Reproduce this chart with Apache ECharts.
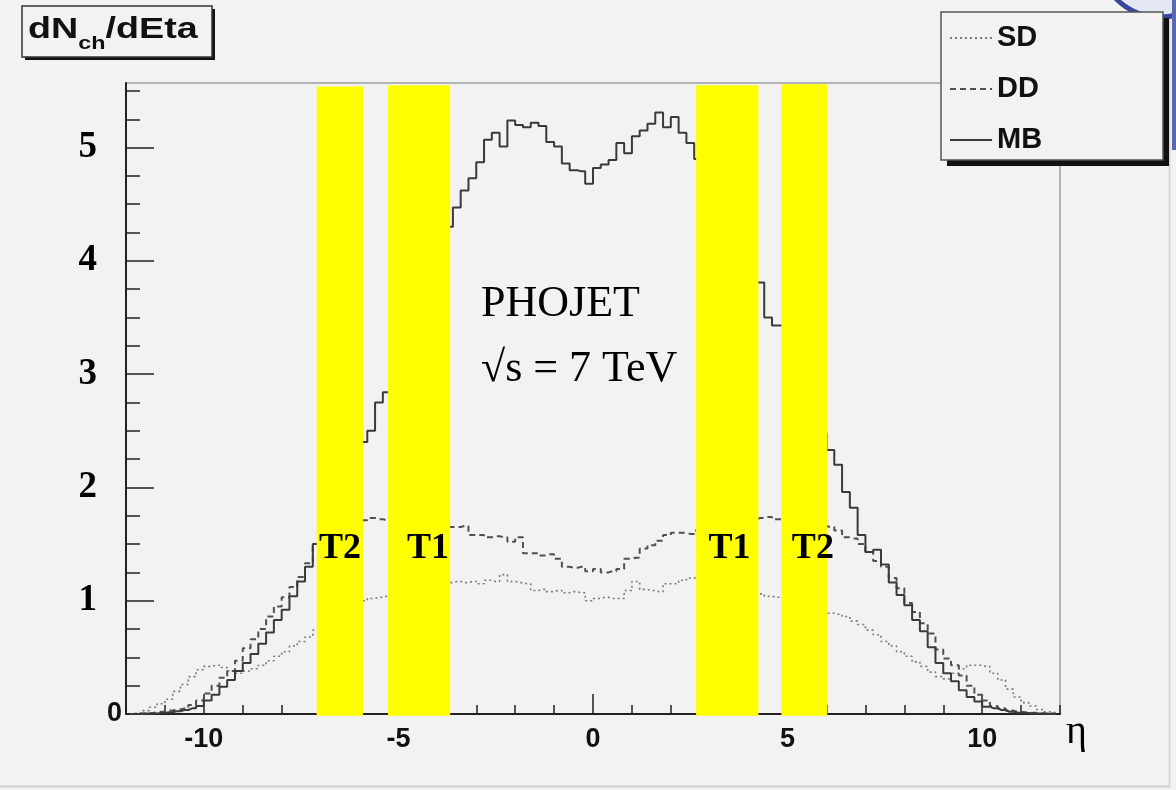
<!DOCTYPE html>
<html><head><meta charset="utf-8">
<script src="https://cdn.jsdelivr.net/npm/echarts@6/dist/echarts.min.js"></script>
<style>html,body{margin:0;padding:0;background:#f2f2f2;}#c{width:1176px;height:790px;}</style>
</head><body><div id="c"></div>
<script>
// bin centres (eta), 120 bins of width 0.2 between -12 and 12
const etaCenters = [
-11.9,-11.7,-11.5,-11.3,-11.1,-10.9,-10.7,-10.5,-10.3,-10.1,
-9.9,-9.7,-9.5,-9.3,-9.1,-8.9,-8.7,-8.5,-8.3,-8.1,
-7.9,-7.7,-7.5,-7.3,-7.1,-6.9,-6.7,-6.5,-6.3,-6.1,
-5.9,-5.7,-5.5,-5.3,-5.1,-4.9,-4.7,-4.5,-4.3,-4.1,
-3.9,-3.7,-3.5,-3.3,-3.1,-2.9,-2.7,-2.5,-2.3,-2.1,
-1.9,-1.7,-1.5,-1.3,-1.1,-0.9,-0.7,-0.5,-0.3,-0.1,
0.1,0.3,0.5,0.7,0.9,1.1,1.3,1.5,1.7,1.9,
2.1,2.3,2.5,2.7,2.9,3.1,3.3,3.5,3.7,3.9,
4.1,4.3,4.5,4.7,4.9,5.1,5.3,5.5,5.7,5.9,
6.1,6.3,6.5,6.7,6.9,7.1,7.3,7.5,7.7,7.9,
8.1,8.3,8.5,8.7,8.9,9.1,9.3,9.5,9.7,9.9,
10.1,10.3,10.5,10.7,10.9,11.1,11.3,11.5,11.7,11.9];

const mbValues = [
0,0,0.005,0.005,0.01,0.015,0.025,0.035,0.05,0.07,
0.12,0.17,0.24,0.30,0.38,0.45,0.53,0.62,0.72,0.83,
0.92,1.04,1.17,1.30,1.50,1.65,1.78,1.92,2.08,2.25,
2.40,2.50,2.75,2.84,3.00,3.20,3.40,3.60,3.80,3.98,
4.15,4.30,4.47,4.62,4.73,4.87,5.07,5.13,5.01,5.24,
5.20,5.18,5.22,5.19,5.05,5.01,4.86,4.80,4.79,4.68,
4.82,4.85,4.89,5.04,4.95,5.10,5.15,5.21,5.31,5.18,
5.27,5.13,5.04,4.90,4.78,4.65,4.50,4.35,4.20,4.05,
3.92,3.81,3.50,3.43,3.43,3.25,3.05,2.85,2.65,2.48,
2.33,2.20,1.96,1.82,1.58,1.43,1.45,1.32,1.16,1.05,
0.96,0.83,0.73,0.59,0.45,0.36,0.29,0.21,0.15,0.11,
0.065,0.05,0.035,0.02,0.012,0.008,0.005,0.004,0.002,0];

const ddValues = [
0,0.005,0.005,0.01,0.02,0.03,0.04,0.05,0.08,0.12,
0.18,0.25,0.32,0.38,0.47,0.58,0.66,0.75,0.86,0.95,
1.03,1.12,1.21,1.33,1.48,1.55,1.60,1.65,1.68,1.70,
1.71,1.73,1.72,1.71,1.70,1.69,1.68,1.68,1.67,1.66,
1.66,1.65,1.65,1.66,1.58,1.58,1.56,1.57,1.56,1.52,
1.56,1.42,1.42,1.40,1.41,1.37,1.30,1.29,1.30,1.26,
1.28,1.25,1.26,1.28,1.37,1.38,1.46,1.49,1.53,1.58,
1.60,1.60,1.59,1.62,1.63,1.65,1.67,1.69,1.70,1.71,
1.72,1.73,1.74,1.72,1.71,1.70,1.69,1.68,1.67,1.66,
1.65,1.62,1.56,1.55,1.50,1.43,1.35,1.30,1.20,1.11,
0.98,0.90,0.80,0.71,0.57,0.49,0.43,0.34,0.25,0.17,
0.12,0.07,0.05,0.03,0.02,0.015,0.01,0.005,0.005,0];

const sdValues = [
0,0.01,0.03,0.06,0.09,0.13,0.20,0.26,0.33,0.39,
0.42,0.43,0.41,0.38,0.36,0.38,0.40,0.43,0.47,0.51,
0.55,0.60,0.64,0.68,0.74,0.80,0.85,0.90,0.94,0.97,
1.00,1.02,1.03,1.04,1.06,1.08,1.10,1.12,1.13,1.14,
1.15,1.16,1.17,1.16,1.17,1.15,1.18,1.17,1.23,1.17,
1.16,1.15,1.09,1.10,1.08,1.09,1.07,1.08,1.07,1.00,
1.02,1.03,1.02,1.02,1.09,1.17,1.10,1.09,1.08,1.15,
1.15,1.18,1.20,1.20,1.19,1.18,1.16,1.14,1.12,1.10,
1.08,1.06,1.04,1.03,1.02,1.00,0.98,0.96,0.94,0.91,
0.89,0.88,0.86,0.82,0.79,0.74,0.70,0.64,0.60,0.55,
0.51,0.46,0.42,0.37,0.33,0.31,0.36,0.40,0.43,0.43,
0.42,0.36,0.30,0.22,0.15,0.10,0.07,0.04,0.02,0.01];

const seriesNames = ['SD','DD','MB'];
const xMajorTicks = [-10,-5,0,5,10];
const yMajorTicks = [0,1,2,3,4,5];
const yMinorTicks = [0,0.25,0.5,0.75,1,1.25,1.5,1.75,2,2.25,2.5,2.75,3,3.25,3.5,3.75,4,4.25,4.5,4.75,5,5.25,5.5];

// detector acceptance bands (eta from, eta to, top of band)
const bandFrom = [-7.10,-5.27,2.65,4.84];
const bandTo   = [-5.91,-3.67,4.25,6.02];
const bandTop  = [5.54,5.55,5.55,5.56];
const bandBottom = -0.015;
const bandNames = ['T2','T1','T1','T2'];
const bandLabelEta = [-6.50,-4.24,3.51,5.65];
const bandLabelY = 1.456;

const chart = echarts.init(document.getElementById('c'), null, {renderer:'canvas'});
const axisCol = '#222';
const sans = 'Liberation Sans, Arial, sans-serif';
const serif = 'Liberation Serif, Times New Roman, serif';

const hist = (vals) => etaCenters.map((e,i)=>[e, vals[i]]);

chart.setOption({
  animation:false,
  backgroundColor:'#f2f2f2',
  grid:{left:126,right:116,top:83,bottom:76,show:true,borderColor:'#777',borderWidth:1,backgroundColor:'transparent',containLabel:false,outerBoundsMode:'none'},
  legend:{
    data:seriesNames, orient:'vertical', left:944, top:18, itemWidth:42, itemHeight:14, itemGap:21, z:10,
    itemStyle:{opacity:0},
    textStyle:{fontFamily:sans,fontWeight:'bold',fontSize:29,color:'#111',lineHeight:30},
    selectedMode:false
  },
  xAxis:[
    {type:'value',min:-12,max:12,interval:1,
     axisLine:{show:true,onZero:false,lineStyle:{color:axisCol,width:2}},
     axisTick:{show:true,inside:true,length:9,lineStyle:{color:axisCol,width:1.5}},
     axisLabel:{show:false},splitLine:{show:false}},
    {type:'value',min:-12,max:12,position:'bottom',
     axisLine:{show:false,onZero:false},
     axisTick:{show:true,inside:true,length:20,customValues:xMajorTicks,lineStyle:{color:axisCol,width:1.5}},
     axisLabel:{show:true,customValues:xMajorTicks,margin:12,fontFamily:sans,fontWeight:'bold',fontSize:27,color:'#111'},
     splitLine:{show:false}}
  ],
  yAxis:[
    {type:'value',min:0,max:5.57,position:'left',
     axisLine:{show:true,onZero:false,lineStyle:{color:axisCol,width:2}},
     axisTick:{show:true,inside:true,length:14,customValues:yMinorTicks,lineStyle:{color:axisCol,width:1.5}},
     axisLabel:{show:false},splitLine:{show:false}},
    {type:'value',min:0,max:5.57,position:'left',
     axisLine:{show:false,onZero:false},
     axisTick:{show:true,inside:true,length:28,customValues:yMajorTicks,lineStyle:{color:axisCol,width:1.5}},
     axisLabel:{show:false},splitLine:{show:false}},
    {type:'value',min:0,max:5.57,position:'left',
     axisLine:{show:false,onZero:false},
     axisTick:{show:false},
     axisLabel:{show:true,customValues:yMajorTicks,margin:4,
       formatter:(v)=> v===0 ? '{z|0}' : '{s|'+v+'}',
       rich:{
         z:{fontFamily:sans,fontWeight:'bold',fontSize:27,color:'#111'},
         s:{fontFamily:serif,fontWeight:'bold',fontSize:37,color:'#000',padding:[0,25,0,0]}
       }},
     splitLine:{show:false}}
  ],
  series:[
    {name:'SD',type:'line',xAxisIndex:0,yAxisIndex:0,data:hist(sdValues),step:'middle',symbol:'none',
     lineStyle:{color:'#7a7a7a',width:1.6,type:[2,3]},itemStyle:{color:'#7a7a7a'},z:2},
    {name:'DD',type:'line',xAxisIndex:0,yAxisIndex:0,data:hist(ddValues),step:'middle',symbol:'none',
     lineStyle:{color:'#505050',width:2,type:[6,4]},itemStyle:{color:'#505050'},z:2},
    {name:'MB',type:'line',xAxisIndex:0,yAxisIndex:0,data:hist(mbValues),step:'middle',symbol:'none',
     lineStyle:{color:'#3a3a3a',width:2},itemStyle:{color:'#3a3a3a'},z:2},
    {type:'custom',xAxisIndex:0,yAxisIndex:0,z:3,clip:false,silent:true,
     data:bandFrom.map((f,i)=>[f,bandTo[i],bandTop[i]]),
     encode:{x:[0,1],y:2},
     renderItem:(params,api)=>{
       const p0 = api.coord([api.value(0), api.value(2)]);
       const p1 = api.coord([api.value(1), bandBottom]);
       return {type:'rect',shape:{x:p0[0],y:p0[1],width:p1[0]-p0[0],height:p1[1]-p0[1]},style:{fill:'#ffff00'}};
     }},
    {type:'scatter',xAxisIndex:0,yAxisIndex:0,z:5,symbolSize:0,silent:true,
     itemStyle:{opacity:1},
     data:bandNames.map((n,i)=>({name:n,value:[bandLabelEta[i],bandLabelY]})),
     label:{show:true,position:'inside',formatter:(p)=>p.name,fontFamily:serif,fontWeight:'bold',fontSize:36,color:'#000',opacity:1}}
  ],
  graphic:[
    // page edges
    {type:'line',z:1,shape:{x1:0,y1:786.5,x2:1170,y2:786.5},style:{stroke:'#cdcdcd',lineWidth:2}},
    {type:'line',z:1,shape:{x1:1169.5,y1:0,x2:1169.5,y2:787},style:{stroke:'#d5d5d5',lineWidth:2}},
    // logo fragment top right
    {type:'circle',z:1,shape:{cx:1160,cy:-45,r:62},style:{fill:'#e4e7f4',stroke:'#3545a0',lineWidth:5}},
    {type:'rect',z:1,shape:{x:1172,y:0,width:4,height:150},style:{fill:'#5868b8'}},
    // title box
    {type:'rect',z:6,shape:{x:25,y:9,width:190,height:51},style:{fill:'#111'}},
    {type:'rect',z:7,shape:{x:22,y:6,width:190,height:51},style:{fill:'#f2f2f2',stroke:'#333',lineWidth:1.5}},
    {type:'group',z:8,x:28,y:0,scaleX:1.3,children:[
      {type:'text',z:8,x:0,y:30,style:{text:'dN',fontFamily:sans,fontWeight:'bold',fontSize:29,fill:'#111',verticalAlign:'middle'}},
      {type:'text',z:8,x:38.7,y:44,style:{text:'ch',fontFamily:sans,fontWeight:'bold',fontSize:18,fill:'#111',verticalAlign:'middle'}},
      {type:'text',z:8,x:59.7,y:30,style:{text:'/dEta',fontFamily:sans,fontWeight:'bold',fontSize:29,fill:'#111',verticalAlign:'middle'}}
    ]},
    // legend box
    {type:'rect',z:6,shape:{x:947,y:18,width:222,height:148},style:{fill:'#111'}},
    {type:'rect',z:7,shape:{x:941,y:12,width:222,height:148},style:{fill:'#f2f2f2',stroke:'#555',lineWidth:1.5}},
    // annotations
    {type:'text',z:9,x:481,y:304,style:{text:'PHOJET',fontFamily:serif,fontSize:44,fill:'#000',verticalAlign:'middle'}},
    {type:'text',z:9,x:481,y:369,style:{text:'\u221As = 7 TeV',fontFamily:serif,fontSize:44,fill:'#000',verticalAlign:'middle'}},
    {type:'text',z:9,x:1066,y:732,style:{text:'\u03B7',fontFamily:serif,fontSize:40,fill:'#000',verticalAlign:'middle'}}
  ]
});
</script></body></html>
